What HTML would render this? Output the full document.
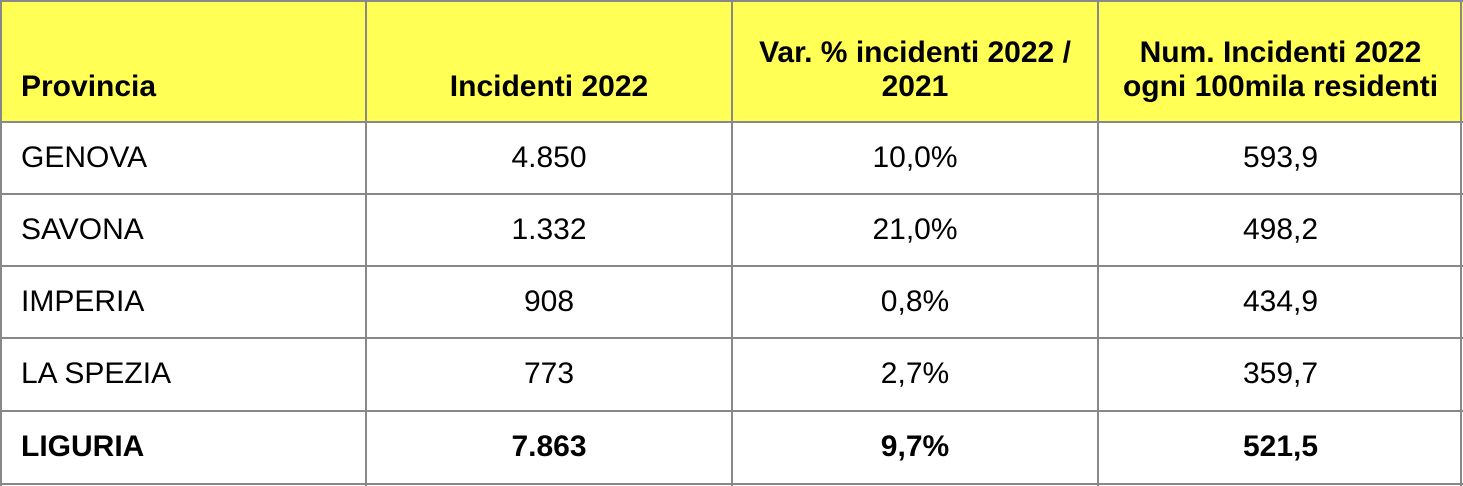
<!DOCTYPE html>
<html><head><meta charset="utf-8"><style>
body{margin:0;width:1463px;height:486px;background:#fff;position:relative;font-family:"Liberation Sans",Arial,sans-serif;font-size:30px;color:#000;overflow:hidden}
.c{position:absolute;box-sizing:border-box;display:flex;align-items:center;justify-content:center;text-align:center}
.l{justify-content:flex-start;padding-left:21px}
.h{background:#ffff55;font-weight:bold;align-items:flex-end;padding-bottom:18px;line-height:34px}
.b{font-weight:bold}
.vl{position:absolute;top:0;width:2px;height:486px;background:#888}
.hl{position:absolute;left:0;height:2px;width:1463px;background:#888}
</style></head><body>
<div class="c h l" style="left:0;top:0;width:366px;height:122px">Provincia</div>
<div class="c h" style="left:366px;top:0;width:366px;height:122px">Incidenti 2022</div>
<div class="c h" style="left:732px;top:0;width:366px;height:122px">Var. % incidenti 2022 /<br>2021</div>
<div class="c h" style="left:1098px;top:0;width:365px;height:122px">Num. Incidenti 2022<br>ogni 100mila residenti</div>

<div class="c l" style="left:0;top:122px;width:366px;height:72px">GENOVA</div>
<div class="c" style="left:366px;top:122px;width:366px;height:72px">4.850</div>
<div class="c" style="left:732px;top:122px;width:366px;height:72px">10,0%</div>
<div class="c" style="left:1098px;top:122px;width:365px;height:72px">593,9</div>

<div class="c l" style="left:0;top:194px;width:366px;height:72px">SAVONA</div>
<div class="c" style="left:366px;top:194px;width:366px;height:72px">1.332</div>
<div class="c" style="left:732px;top:194px;width:366px;height:72px">21,0%</div>
<div class="c" style="left:1098px;top:194px;width:365px;height:72px">498,2</div>

<div class="c l" style="left:0;top:266px;width:366px;height:72px">IMPERIA</div>
<div class="c" style="left:366px;top:266px;width:366px;height:72px">908</div>
<div class="c" style="left:732px;top:266px;width:366px;height:72px">0,8%</div>
<div class="c" style="left:1098px;top:266px;width:365px;height:72px">434,9</div>

<div class="c l" style="left:0;top:338px;width:366px;height:72px">LA SPEZIA</div>
<div class="c" style="left:366px;top:338px;width:366px;height:72px">773</div>
<div class="c" style="left:732px;top:338px;width:366px;height:72px">2,7%</div>
<div class="c" style="left:1098px;top:338px;width:365px;height:72px">359,7</div>

<div class="c l b" style="left:0;top:410px;width:366px;height:74px">LIGURIA</div>
<div class="c b" style="left:366px;top:410px;width:366px;height:74px">7.863</div>
<div class="c b" style="left:732px;top:410px;width:366px;height:74px">9,7%</div>
<div class="c b" style="left:1098px;top:410px;width:365px;height:74px">521,5</div>

<div class="vl" style="left:0;height:486px"></div>
<div class="vl" style="left:365px"></div>
<div class="vl" style="left:731px"></div>
<div class="vl" style="left:1097px"></div>
<div class="vl" style="left:1460px"></div>
<div class="hl" style="top:0"></div>
<div class="hl" style="top:121px"></div>
<div class="hl" style="top:193px"></div>
<div class="hl" style="top:265px"></div>
<div class="hl" style="top:337px"></div>
<div class="hl" style="top:410px"></div>
<div class="hl" style="top:483px"></div>
</body></html>
